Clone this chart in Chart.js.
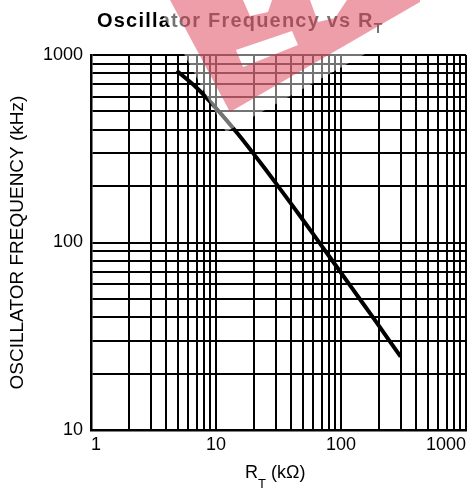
<!DOCTYPE html>
<html>
<head>
<meta charset="utf-8">
<script src="https://cdn.jsdelivr.net/npm/chart.js@4.4.0/dist/chart.umd.min.js"></script>
<style>
  html, body { margin: 0; padding: 0; background: #fff; }
  #wrap { width: 475px; height: 490px; }
</style>
</head>
<body>
<div id="wrap"><canvas id="chart" width="475" height="490"></canvas></div>
<script>
// values (R_T in kOhm, frequency in kHz)
const rtValues = [4.85, 7, 10, 15, 20, 30, 50, 70, 100, 150, 200, 300];
const freqValues = [824, 669, 521, 379, 297, 208, 131, 96, 69, 47.3, 36.1, 24.6];
const xTickLabels = [1, 10, 100, 1000];
const yTickLabels = [10, 100, 1000];

const FONT = '"Liberation Sans", Arial, Helvetica, sans-serif';

// 1,2,...,9,10,20,... grid lines for a log axis
function decadeGrid(min, max) {
    const out = [];
    for (let p = min; p < max; p *= 10) {
        for (let d = 1; d < 10; d++) out.push(d * p);
    }
    out.push(max);
    return out;
}

function polygon(ctx, pts) {
    ctx.moveTo(pts[0][0], pts[0][1]);
    for (let i = 1; i < pts.length; i++) ctx.lineTo(pts[i][0], pts[i][1]);
    ctx.closePath();
}

const textPlugin = {
    id: 'textPlugin',
    afterDraw(chart) {
        const ctx = chart.ctx;
        ctx.save();
        ctx.fillStyle = '#000';
        ctx.textBaseline = 'alphabetic';
        ctx.textAlign = 'left';

        // main title with subscript
        ctx.font = 'bold 20px ' + FONT;
        ctx.letterSpacing = '1.2px';
        const t = 'Oscillator Frequency vs R';
        ctx.fillText(t, 97, 27);
        const tw = ctx.measureText(t).width;
        ctx.font = 'bold 14px ' + FONT;
        ctx.letterSpacing = '0px';
        ctx.fillText('T', 97 + tw, 33);

        // x axis title
        ctx.font = '18px ' + FONT;
        ctx.fillText('R', 245, 478);
        const rw = ctx.measureText('R').width;
        ctx.font = '13px ' + FONT;
        ctx.fillText('T', 245 + rw, 488);
        const sw = ctx.measureText('T').width;
        ctx.font = '18px ' + FONT;
        ctx.fillText(' (k\u03A9)', 245 + rw + sw, 478);

        // watermark on top
        ctx.beginPath();
        polygon(ctx, [[155, 0], [226, 132], [440, 12], [440, 0]]);
        ctx.fillStyle = 'rgba(255,255,255,0.45)';
        ctx.fill();

        ctx.beginPath();
        polygon(ctx, [[170, 0], [230, 112], [420, 2], [420, 0]]);
        polygon(ctx, [[243, 0], [272, 0], [268, 12], [250, 16]]);
        polygon(ctx, [[310, 0], [347, 0], [335, 18], [318, 22]]);
        polygon(ctx, [[236, 50], [292, 31], [298, 45], [243, 67]]);
        ctx.fillStyle = 'rgba(217,43,65,0.46)';
        ctx.fill('evenodd');
        ctx.restore();
    }
};

new Chart(document.getElementById('chart'), {
    type: 'line',
    data: {
        datasets: [{
            data: rtValues.map((x, i) => ({ x: x, y: freqValues[i] })),
            borderColor: '#000',
            borderWidth: 4,
            pointRadius: 0,
            fill: false,
            tension: 0.3
        }]
    },
    options: {
        responsive: false,
        animation: false,
        layout: { padding: { top: 55, right: 9, left: 0, bottom: 0 } },
        plugins: {
            legend: { display: false },
            tooltip: { enabled: false },
            title: { display: false }
        },
        scales: {
            x: {
                type: 'logarithmic',
                min: 1,
                max: 1000,
                afterBuildTicks: s => { s.ticks = decadeGrid(1, 1000).map(v => ({ value: v })); },
                afterFit: s => { s.height = 60; },
                ticks: {
                    callback: v => xTickLabels.includes(v) ? String(v) : '',
                    autoSkip: false,
                    maxRotation: 0,
                    align: 'inner',
                    color: '#000',
                    font: { family: FONT, size: 18 },
                    padding: 4
                },
                grid: { color: '#000', lineWidth: 2, drawTicks: false },
                border: { color: '#000', width: 2.5 }
            },
            y: {
                type: 'logarithmic',
                min: 10,
                max: 1000,
                afterBuildTicks: s => { s.ticks = decadeGrid(10, 1000).map(v => ({ value: v })); },
                afterFit: s => { s.width = 91; },
                ticks: {
                    callback: v => yTickLabels.includes(v) ? String(v) : '',
                    autoSkip: false,
                    color: '#000',
                    font: { family: FONT, size: 18 },
                    padding: 8
                },
                title: {
                    display: true,
                    text: 'OSCILLATOR FREQUENCY (kHz)',
                    color: '#000',
                    font: { family: FONT, size: 19 },
                    padding: { top: 6, bottom: 0 }
                },
                grid: { color: '#000', lineWidth: 2, drawTicks: false },
                border: { color: '#000', width: 2.5 }
            }
        }
    },
    plugins: [textPlugin]
});
</script>
</body>
</html>
